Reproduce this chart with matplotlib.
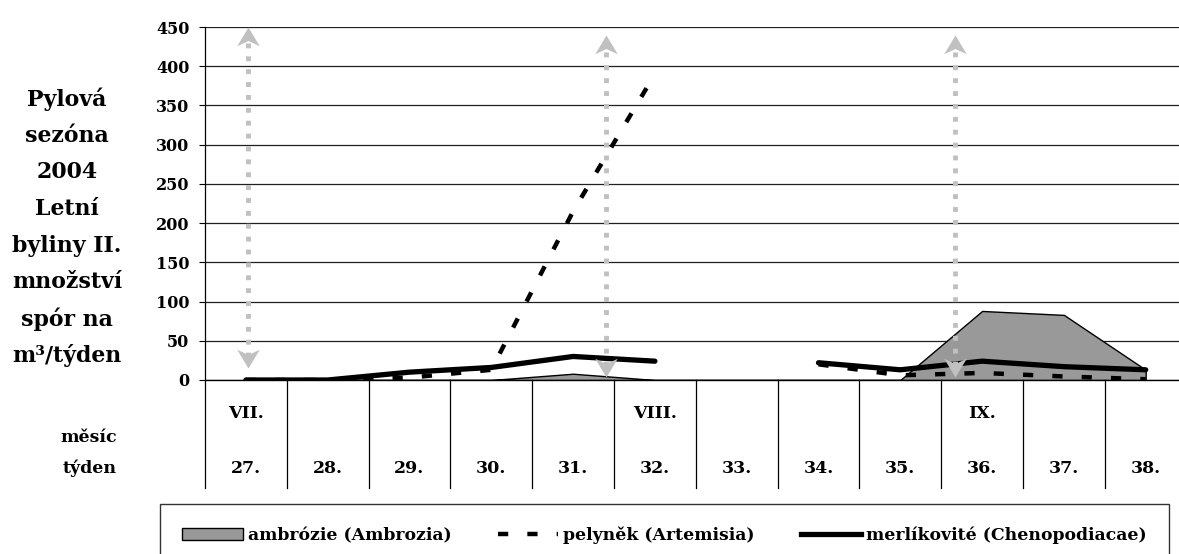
import numpy as np
import matplotlib.pyplot as plt
from matplotlib.patches import Patch
from matplotlib.lines import Line2D
from matplotlib.path import Path

# týdny pylové sezóny 2004 a měsíce
weeks = ['27.', '28.', '29.', '30.', '31.', '32.', '33.', '34.', '35.', '36.', '37.', '38.']
months = ['VII.', '', '', '', '', 'VIII.', '', '', '', 'IX.', '', '']

# množství spór na m3 za týden (33. týden bez měření)
ambrozie = [0, 0, 0, 0, 8, 0, 0, 0, 0, 88, 83, 13]
pelynek = [0, 0, 3, 13, 215, 390, np.nan, 20, 6, 9, 4.5, 1]
merlik = [0, 0, 10, 16, 30, 24, np.nan, 22, 13, 24, 17, 13]

# šipky vymezující měsíce (poloha na ose týdnů, horní a dolní konec)
arrow_x = [0.02, 4.4, 8.67]
arrow_top = [450, 440, 440]
arrow_bottom = [15, 4, 4]

title_lines = ['Pylová', 'sezóna', '2004', 'Letní', 'byliny II.', 'množství', 'spór na', 'm³/týden']

plt.rcParams['font.family'] = ['DejaVu Serif']
plt.rcParams['font.weight'] = 'bold'

W, H = 1179, 554
fig = plt.figure(figsize=(W / 100, H / 100), dpi=100)

col_w = 81.8
ax = fig.add_axes([205 / W, (H - 380) / H, 12 * col_w / W, 353 / H])
x = np.arange(len(weeks))

ax.fill_between(x, ambrozie, 0, facecolor='#999999', edgecolor='black', linewidth=1, zorder=2)
ax.plot(x, pelynek, color='black', linewidth=3.2, linestyle=(0, (2.3, 4.3)),
        dash_capstyle='butt', zorder=3)
ax.plot(x, merlik, color='black', linewidth=3.8, solid_capstyle='round', zorder=4)

# šedé šipky (tečkovaná čára + hroty)
head_up = Path([(0, 0), (0.6, -1), (0, -0.72), (-0.6, -1), (0, 0)],
               [Path.MOVETO, Path.LINETO, Path.LINETO, Path.LINETO, Path.CLOSEPOLY])
head_down = Path([(0, 0), (0.6, 1), (0, 0.72), (-0.6, 1), (0, 0)],
                 [Path.MOVETO, Path.LINETO, Path.LINETO, Path.LINETO, Path.CLOSEPOLY])
for ax_x, top, bot in zip(arrow_x, arrow_top, arrow_bottom):
    ax.plot([ax_x, ax_x], [bot + 14, top - 14], color='#c0c0c0', linewidth=3.5,
            linestyle=(0, (1, 1.65)), dash_capstyle='butt', zorder=6, clip_on=False)
    ax.plot(ax_x, top, marker=head_up, markersize=27, color='#c0c0c0',
            markeredgewidth=0, zorder=7, clip_on=False)
    ax.plot(ax_x, bot, marker=head_down, markersize=27, color='#c0c0c0',
            markeredgewidth=0, zorder=7, clip_on=False)

ax.set_xlim(-0.5, 11.5)
ax.set_ylim(0, 450)
ax.set_yticks(np.arange(0, 451, 50))
ax.set_xticks([])
ax.yaxis.grid(True, color='#202020', linewidth=0.9)
ax.set_axisbelow(True)
ax.tick_params(axis='y', direction='out', length=4.3, width=0.8, pad=7, labelsize=11.5)
for lab in ax.get_yticklabels():
    lab.set_fontweight('bold')
for s in ['top', 'right']:
    ax.spines[s].set_visible(False)
ax.spines['left'].set_linewidth(0.9)
ax.spines['bottom'].set_linewidth(1.0)

# tabulka pod grafem: měsíc / týden
tab = fig.add_axes([205 / W, (H - 488) / H, 12 * col_w / W, 108 / H])
tab.set_xlim(-0.5, 11.5)
tab.set_ylim(0, 1)
tab.axis('off')
for b in np.arange(-0.5, 12, 1):
    tab.plot([b, b], [0, 1], color='black', linewidth=0.9, clip_on=False)
for i, (m, w) in enumerate(zip(months, weeks)):
    if m:
        tab.text(i, 0.69, m, ha='center', va='center', fontsize=12.5, fontweight='bold')
    tab.text(i, 0.18, w, ha='center', va='center', fontsize=12.5, fontweight='bold')

fig.text(117 / W, (H - 437) / H, 'měsíc', ha='right', va='center', fontsize=12.5, fontweight='bold')
fig.text(117 / W, (H - 468) / H, 'týden', ha='right', va='center', fontsize=12.5, fontweight='bold')

# popis vlevo
for k, line in enumerate(title_lines):
    fig.text(67 / W, (H - (99 + 36.7 * k)) / H, line, ha='center', va='center',
             fontsize=15.8, fontweight='bold')

handles = [
    Patch(facecolor='#999999', edgecolor='black', linewidth=1),
    Line2D([], [], color='black', linewidth=3.2, linestyle=(0, (2.3, 4.3)), dash_capstyle='butt'),
    Line2D([], [], color='black', linewidth=3.8),
]
labels = ['ambrózie (Ambrozia)', 'pelyněk (Artemisia)', 'merlíkovité (Chenopodiacae)']
leg = fig.legend(handles, labels, loc='upper left', ncol=3, mode='expand',
                 bbox_to_anchor=(160 / W, 0, 1009 / W, (H - 504) / H),
                 bbox_transform=fig.transFigure, borderaxespad=0,
                 prop={'size': 12.4, 'weight': 'bold'}, frameon=True, fancybox=False,
                 edgecolor='black', borderpad=1.3, handlelength=3.5, handleheight=0.7,
                 handletextpad=0.3)
leg.get_frame().set_linewidth(1.0)

fig.savefig('out.png', dpi=100)
